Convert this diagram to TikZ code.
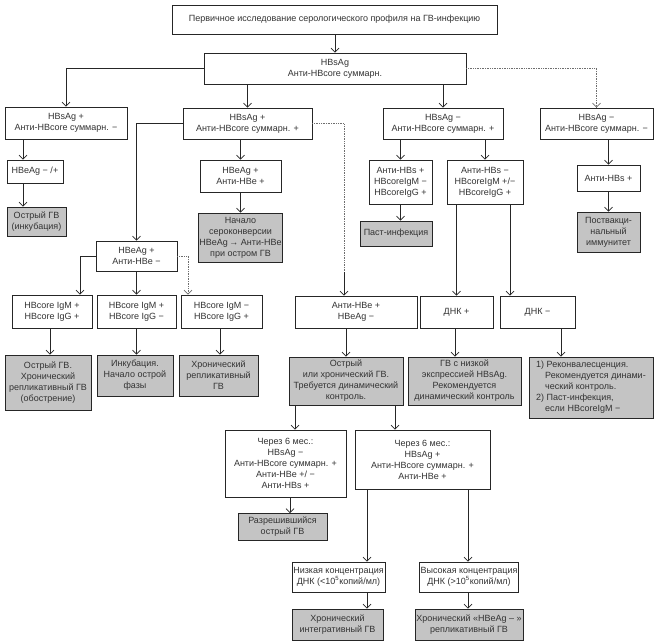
\documentclass[tikz,border=0pt]{standalone}
\usepackage{fontspec}
\setmainfont{Liberation Sans}
\usetikzlibrary{arrows.meta}
\definecolor{boxgray}{RGB}{196,196,196}
\definecolor{linegray}{RGB}{110,110,110}
\tikzset{
  box/.style={draw=black!85, fill=white, line width=0.7pt, align=center, inner sep=1pt,
    font=\fontsize{9}{11}\selectfont, text=black!80},
  res/.style={box, fill=boxgray},
  sz/.style 2 args={minimum width=#1pt, minimum height=#2pt},
  arr/.style={-{Straight Barb[length=4pt,width=8pt]}, line width=0.7pt, draw=black!85},
  dots/.style={arr, densely dotted, draw=linegray}
}
\begin{document}
\begin{tikzpicture}[x=1pt,y=-1pt]
\useasboundingbox[fill=white] (0,0) rectangle (656,643);

\draw (334.5,19.5) node[box,sz={325}{29}] (start) {Первичное исследование серологического профиля на ГВ-инфекцию};
\draw (335,68.5) node[box,sz={262}{31}] (hbs) {HBsAg\\Анти-HBcore суммарн.};

\draw (66,123) node[box,sz={122}{32}] (pn) {HBsAg +\\Анти-HBcore суммарн. −};
\draw (247.5,123.5) node[box,sz={129}{31}] (pp) {HBsAg +\\Анти-HBcore суммарн. +};
\draw (443,123.5) node[box,sz={120}{31}] (np) {HBsAg −\\Анти-HBcore суммарн. +};
\draw (596.5,123.5) node[box,sz={113}{31}] (nn) {HBsAg −\\Анти-HBcore суммарн. −};

\draw (35,171.5) node[box,sz={56}{23}] (hbe) {HBeAg − /+};
\draw (36.5,221.5) node[res,sz={59}{29}] (incub) {Острый ГВ\\(инкубация)};

\draw (240.5,176) node[box,sz={81}{32}] (hbepp) {HBeAg +\\Анти-HBe +};
\draw (240.5,237.5) node[res,sz={83}{49}] (seroconv) {Начало\\сероконверсии\\HBeAg\,→ Анти-HBe\\при остром ГВ};

\draw (136.5,256) node[box,sz={81}{30}] (hbepn) {HBeAg +\\Анти-HBe −};
\draw (52,311.5) node[box,sz={80}{33}] (igpp) {HBcore IgM +\\HBcore IgG +};
\draw (136.5,311.5) node[box,sz={79}{33}] (igpn) {HBcore IgM +\\HBcore IgG −};
\draw (221.5,311.5) node[box,sz={81}{33}] (ignp) {HBcore IgM −\\HBcore IgG +};
\draw (48,382.5) node[res,sz={86}{55}] (exacerb) {Острый ГВ.\\Хронический\\репликативный ГВ\\(обострение)};
\draw (135,375.5) node[res,sz={76}{41}] (acute) {Инкубация.\\Начало острой\\фазы};
\draw (218.5,375.5) node[res,sz={79}{41}] (chronrep) {Хронический\\репликативный\\ГВ};

\draw (400.5,182) node[box,sz={63}{44}] (hbsp) {Анти-HBs +\\HBcoreIgM −\\HBcoreIgG +};
\draw (396,233.5) node[res,sz={72}{25}] (past) {Паст-инфекция};
\draw (485,182) node[box,sz={76}{44}] (hbsn) {Анти-HBs −\\HBcoreIgM +/−\\HBcoreIgG +};

\draw (608.5,178) node[box,sz={63}{26}] (hbsonly) {Анти-HBs +};
\draw (608.5,232) node[res,sz={63}{40}] (vacc) {Поствакци-\\нальный\\иммунитет};

\draw (356,312) node[box,sz={122}{32}] (antihbe) {Анти-HBe +\\HBeAg −};
\draw (346,381) node[res,sz={114}{48}] (control) {Острый\\или хронический ГВ.\\Требуется динамический\\контроль.};
\draw (456.5,312) node[box,sz={73}{32}] (dnap) {ДНК +};
\draw (537.5,312) node[box,sz={75}{32}] (dnan) {ДНК −};
\draw (464.5,381) node[res,sz={113}{48}] (lowexpr) {ГВ с низкой\\экспрессией HBsAg.\\Рекомендуется\\динамический контроль};
\draw (591,387.5) node[res,sz={124}{61},align=left] (reconv) {1) Реконвалесценция.\\\hspace*{9pt}Рекомендуется динами-\\\hspace*{9pt}ческий контроль.\\2) Паст-инфекция,\\\hspace*{9pt}если HBcoreIgM −};

\draw (285.5,463.5) node[box,sz={121}{67}] (sixneg) {Через 6 мес.:\\HBsAg −\\Анти-HBcore суммарн. +\\Анти-HBe +/ −\\Анти-HBs +};
\draw (422.5,459.5) node[box,sz={135}{59}] (sixpos) {Через 6 мес.:\\HBsAg +\\Анти-HBcore суммарн. +\\Анти-HBe +};
\draw (282.5,527) node[res,sz={89}{27}] (resolved) {Разрешившийся\\острый ГВ};

\draw (338.5,577) node[box,sz={93}{30}] (lowdna) {Низкая концентрация\\ДНК (<10\textsuperscript{5}копий/мл)};
\draw (469,577) node[box,sz={98}{30}] (highdna) {Высокая концентрация\\ДНК (>10\textsuperscript{5}копий/мл)};
\draw (337.5,624.5) node[res,sz={91}{31}] (integr) {Хронический\\интегративный ГВ};
\draw (469,624.5) node[res,sz={108}{31}] (hbeneg) {Хронический «HBeAg – »\\репликативный ГВ};

\coordinate (kbend) at (344,272);

\draw[arr] (start.south -| hbs.north) -- (hbs.north);
\draw[arr] (hbs.west) -| (pn.north);
\draw[arr] (hbs.south -| pp.north) -- (pp.north);
\draw[arr] (hbs.south -| np.north) -- (np.north);
\draw[dots] (hbs.east) -| (nn.north);

\draw[arr] (pn.south -| 23,0) -- (hbe.north -| 23,0);
\draw[arr] (hbe.south -| 23,0) -- (incub.north -| 23,0);

\draw[arr] (pp.south -| hbepp.north) -- (hbepp.north);
\draw[arr] (hbepp.south) -- (seroconv.north);
\draw[arr] (pp.west) -| (hbepn.north);
\draw[dots,-] (pp.east) -| (kbend);
\draw[arr] (kbend) -- (antihbe.north -| kbend);

\draw[arr] (hbepn.west) -| (igpp.north -| 80,0);
\draw[arr] (hbepn.south) -- (igpn.north);
\draw[dots] (hbepn.east) -| (ignp.north -| 188,0);
\draw[arr] (igpp.south -| 50,0) -- (exacerb.north -| 50,0);
\draw[arr] (igpn.south) -- (igpn.south |- acute.north);
\draw[arr] (ignp.south -| 220,0) -- (chronrep.north -| 220,0);

\draw[arr] (np.south -| hbsp.north) -- (hbsp.north);
\draw[arr] (np.south -| hbsn.north) -- (hbsn.north);
\draw[arr] (hbsp.south) -- (hbsp.south |- past.north);
\draw[arr] (hbsn.south -| dnap.north) -- (dnap.north);
\draw[arr] (hbsn.south -| 510,0) -- (dnan.north -| 510,0);

\draw[arr] (nn.south -| hbsonly.north) -- (hbsonly.north);
\draw[arr] (hbsonly.south) -- (vacc.north);

\draw[arr] (antihbe.south -| control.north) -- (control.north);
\draw[arr] (dnap.south -| 455,0) -- (lowexpr.north -| 455,0);
\draw[arr] (dnan.south -| 561,0) -- (reconv.north -| 561,0);

\draw[arr] (control.south -| 295,0) -- (sixneg.north -| 295,0);
\draw[arr] (control.south -| 395,0) -- (sixpos.north -| 395,0);
\draw[arr] (sixneg.south -| 290,0) -- (resolved.north -| 290,0);
\draw[arr] (sixpos.south -| 367,0) -- (lowdna.north -| 367,0);
\draw[arr] (sixpos.south -| 468,0) -- (highdna.north -| 468,0);
\draw[arr] (lowdna.south -| 367,0) -- (integr.north -| 367,0);
\draw[arr] (highdna.south -| 468,0) -- (hbeneg.north -| 468,0);
\end{tikzpicture}
\end{document}
